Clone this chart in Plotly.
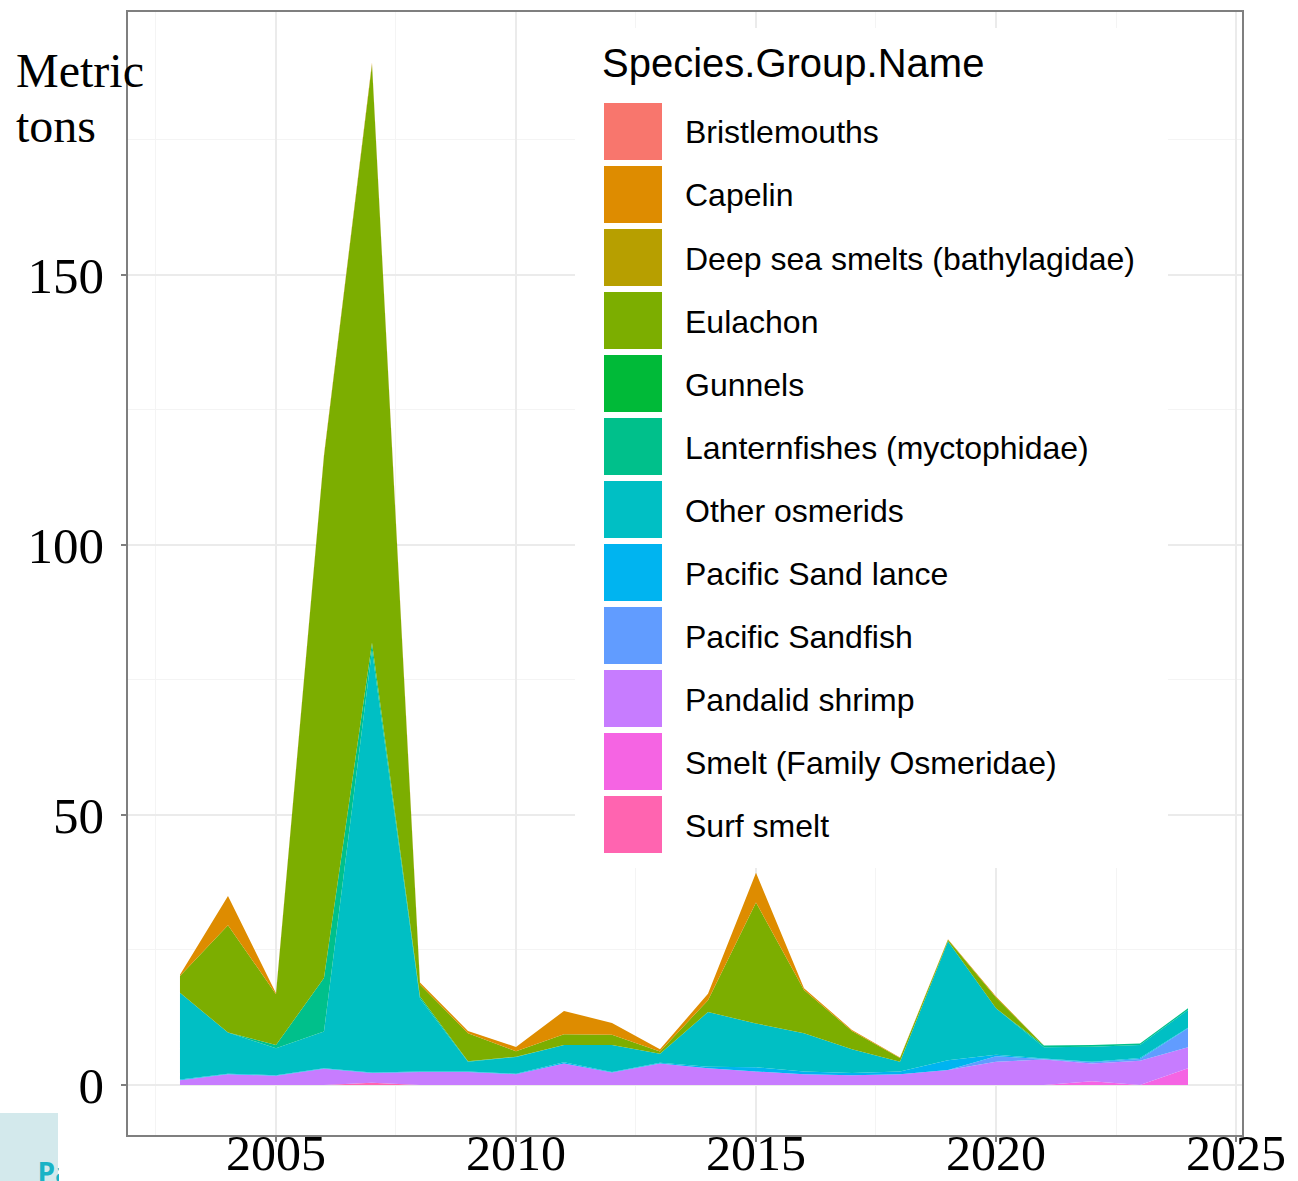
import plotly.graph_objects as go

years = list(range(2003, 2025))

species = [
    "Bristlemouths", "Capelin", "Deep sea smelts (bathylagidae)", "Eulachon",
    "Gunnels", "Lanternfishes (myctophidae)", "Other osmerids",
    "Pacific Sand lance", "Pacific Sandfish", "Pandalid shrimp",
    "Smelt (Family Osmeridae)", "Surf smelt",
]
colors = [
    "#F8766D", "#DE8C00", "#B79F00", "#7CAE00", "#00BA38", "#00C08B",
    "#00BFC4", "#00B4F0", "#619CFF", "#C77CFF", "#F564E3", "#FF64B0",
]

# metric tons per year, 2003..2024
bristlemouths = [0, 0, 0, 0, 0, 0, 0, 0, 0, 0, 0, 0, 0, 0, 0, 0, 0, 0, 0, 0, 0, 0]
capelin = [0.2, 5.4, 0.2, 0.2, 0.3, 0.4, 0.4, 0.8, 4.3, 2.2, 0.4, 1.2, 5.5, 0.3, 0.2, 0.1, 0.1, 0.2, 0, 0, 0, 0]
deep_sea_smelts = [0, 0, 0, 0, 0, 0, 0, 0, 0, 0, 0, 0, 0, 0, 0, 0, 0, 0, 0, 0, 0, 0]
eulachon = [3.1, 19.9, 9.4, 96.7, 107.1, 2.2, 5.2, 1.0, 2.0, 1.9, 0.4, 2.2, 22.4, 8.0, 3.4, 0.7, 0.3, 2.0, 0, 0, 0, 0]
gunnels = [0, 0, 0, 0, 0, 0, 0, 0, 0, 0, 0, 0, 0, 0, 0, 0, 0, 0, 0, 0, 0, 0]
lanternfishes = [0, 0, 0.6, 9.9, 1.4, 0.4, 0.1, 0.05, 0, 0, 0, 0, 0, 0, 0, 0, 0, 0, 0.3, 0.3, 0.3, 0.3]
other_osmerids = [16.1, 7.6, 5.0, 6.8, 78.2, 13.5, 1.8, 3.1, 3.2, 5.0, 1.7, 10.1, 8.1, 7.1, 4.4, 1.8, 22.0, 8.6, 2.1, 2.8, 2.4, 3.3]
pacific_sand_lance = [0.1, 0.1, 0.1, 0.1, 0.1, 0.1, 0.1, 0.1, 0.2, 0.1, 0.1, 0.3, 0.8, 0.5, 0.4, 0.5, 1.8, 0.3, 0.1, 0.1, 0.2, 0.1]
pacific_sandfish = [0, 0, 0, 0, 0, 0, 0, 0, 0, 0, 0, 0, 0, 0, 0, 0, 0, 1.0, 0.1, 0.2, 0.3, 3.5]
pandalid_shrimp = [0.9, 2.0, 1.7, 3.0, 1.8, 2.4, 2.4, 2.0, 4.0, 2.3, 4.0, 3.1, 2.5, 2.0, 1.8, 2.0, 2.8, 4.3, 4.7, 3.3, 4.5, 3.9]
smelt_family = [0, 0, 0, 0, 0, 0, 0, 0, 0, 0, 0, 0, 0, 0, 0, 0, 0, 0, 0, 0.7, 0, 3.1]
surf_smelt = [0, 0, 0, 0, 0.4, 0, 0, 0, 0, 0, 0, 0, 0, 0, 0, 0, 0, 0, 0, 0, 0, 0]

series = [bristlemouths, capelin, deep_sea_smelts, eulachon, gunnels, lanternfishes,
          other_osmerids, pacific_sand_lance, pacific_sandfish, pandalid_shrimp,
          smelt_family, surf_smelt]

x_ticks = [2005, 2010, 2015, 2020, 2025]
y_ticks = [0, 50, 100, 150]

W, H = 1298, 1181
L, R, T, B = 128, 1242, 12, 1135


def px(x):
    return (x - L) / (R - L)


def py(y):
    return (B - y) / (B - T)


fig = go.Figure()
# ggplot stacks first level on top -> add in reverse order (bottom first)
for name, vals, col in reversed(list(zip(species, series, colors))):
    fig.add_trace(go.Scatter(
        x=years, y=vals, name=name, stackgroup="one", mode="none",
        fillcolor=col, showlegend=False, hoverinfo="x+y+name",
    ))

serif = "Liberation Serif"
sans = "Liberation Sans"

fig.update_layout(
    width=W, height=H,
    margin=dict(l=L, r=W - R, t=T, b=H - B, pad=0, autoexpand=False),
    paper_bgcolor="white", plot_bgcolor="white",
    showlegend=False,
    xaxis=dict(
        range=[2001.917, 2025.125], tickvals=x_ticks, ticktext=[str(v) for v in x_ticks],
        automargin=False,
        showgrid=True, gridcolor="#ebebeb", gridwidth=1.5,
        minor=dict(dtick=2.5, tick0=2002.5, showgrid=True, gridcolor="#f4f4f4", gridwidth=1),
        showline=True, linecolor="#7f7f7f", linewidth=1.5, mirror=True,
        ticks="outside", ticklen=5, tickcolor="#7f7f7f", tickwidth=1.5,
        tickfont=dict(family=serif, size=50, color="black"),
        ticklabelstandoff=-32,
        zeroline=False,
    ),
    yaxis=dict(
        range=[-9.26, 198.7], tickvals=y_ticks, ticktext=[str(v) for v in y_ticks],
        automargin=False,
        showgrid=True, gridcolor="#ebebeb", gridwidth=1.5,
        minor=dict(dtick=25, tick0=0, showgrid=True, gridcolor="#f4f4f4", gridwidth=1),
        showline=True, linecolor="#7f7f7f", linewidth=1.5, mirror=True,
        ticks="outside", ticklen=5, tickcolor="#7f7f7f", tickwidth=1.5,
        tickfont=dict(family=serif, size=51, color="black"),
        ticklabelstandoff=7,
        zeroline=False,
    ),
)

shapes = []
annotations = []

# legend background
shapes.append(dict(type="rect", xref="paper", yref="paper",
                   x0=px(575), x1=px(1168), y0=py(868), y1=py(28),
                   fillcolor="white", line=dict(width=0), layer="above"))
annotations.append(dict(xref="paper", yref="paper", x=px(600), y=py(63),
                        xanchor="left", yanchor="middle", showarrow=False,
                        text="Species.Group.Name",
                        font=dict(family=sans, size=40, color="black")))
key_top, key_h, key_step = 103, 57, 63
for i, (name, col) in enumerate(zip(species, colors)):
    y0 = key_top + i * key_step
    shapes.append(dict(type="rect", xref="paper", yref="paper",
                       x0=px(604), x1=px(662), y0=py(y0 + key_h), y1=py(y0),
                       fillcolor=col, line=dict(width=0), layer="above"))
    annotations.append(dict(xref="paper", yref="paper", x=px(683), y=py(y0 + key_h / 2 + 1),
                            xanchor="left", yanchor="middle", showarrow=False,
                            text=name, font=dict(family=sans, size=32, color="black")))

# "Metric tons" label
annotations.append(dict(xref="paper", yref="paper", x=px(14), y=py(70),
                        xanchor="left", yanchor="middle", showarrow=False,
                        text="Metric", font=dict(family=serif, size=48, color="black")))
annotations.append(dict(xref="paper", yref="paper", x=px(14), y=py(125),
                        xanchor="left", yanchor="middle", showarrow=False,
                        text="tons", font=dict(family=serif, size=48, color="black")))

# slide fragment in the bottom-left corner
shapes.append(dict(type="rect", xref="paper", yref="paper",
                   x0=px(0), x1=px(58), y0=py(1181), y1=py(1113),
                   fillcolor="#d3e9ec", line=dict(width=0), layer="above"))
annotations.append(dict(xref="paper", yref="paper", x=px(0), y=py(1172),
                        xanchor="left", yanchor="middle", showarrow=False, width=58,
                        align="left", borderpad=0,
                        text="\u00a0\u00a0\u00a0\u00a0\u00a0<b>Pa</b>",
                        font=dict(family="Open Sans", size=28, color="#19b3c6")))

fig.update_layout(shapes=shapes, annotations=annotations)

fig.write_html("out.html", config={"displayModeBar": False},
               post_script="document.body.style.margin='0';")
